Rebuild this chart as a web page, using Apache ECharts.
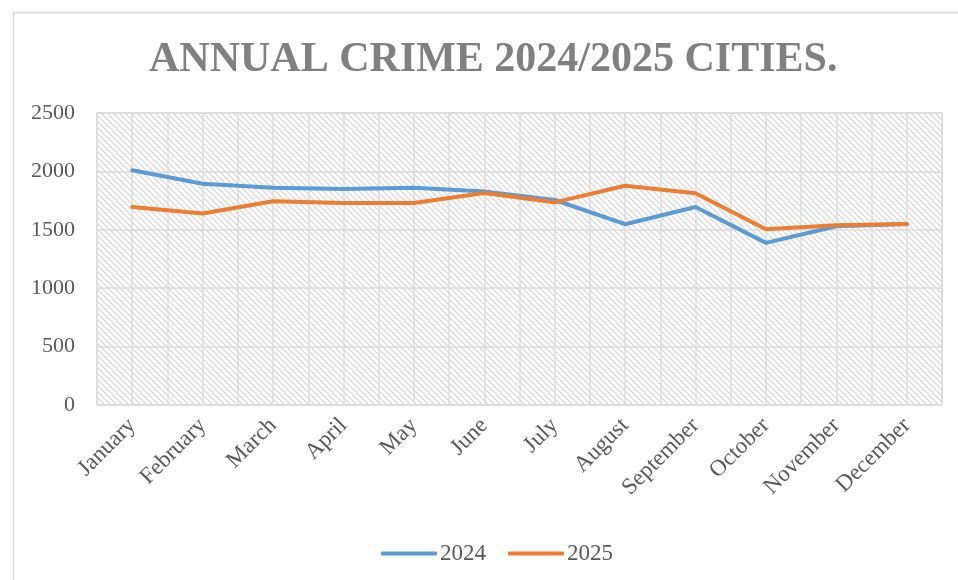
<!DOCTYPE html>
<html>
<head>
<meta charset="utf-8">
<script src="https://cdn.jsdelivr.net/npm/echarts@6/dist/echarts.min.js"></script>
<style>
html,body{margin:0;padding:0;background:#fff;}
#chart{width:958px;height:580px;}
</style>
</head>
<body>
<div id="chart"></div>
<script>
const months = ['January','February','March','April','May','June','July','August','September','October','November','December'];
const crime2024 = [2010, 1895, 1860, 1850, 1860, 1828, 1755, 1548, 1695, 1388, 1530, 1550];
const crime2025 = [1695, 1640, 1745, 1730, 1730, 1815, 1735, 1877, 1813, 1505, 1538, 1550];
const yTicks = [0, 500, 1000, 1500, 2000, 2500];

// hatch pattern tile
const tile = document.createElement('canvas');
tile.width = 6; tile.height = 6;
const tc = tile.getContext('2d');
tc.fillStyle = '#ffffff';
tc.fillRect(0,0,6,6);
tc.strokeStyle = '#d4d4d4';
tc.lineWidth = 1.2;
tc.beginPath();
tc.moveTo(-1,-1); tc.lineTo(7,7);
tc.moveTo(-7,-1); tc.lineTo(1,7);
tc.moveTo(5,-1); tc.lineTo(13,7);
tc.stroke();

const halfCats = [];
months.forEach(m => { halfCats.push(m + ' a'); halfCats.push(m + ' b'); });

const chart = echarts.init(document.getElementById('chart'));
chart.setOption({
  backgroundColor: '#ffffff',
  animation: false,
  title: {
    text: 'ANNUAL CRIME 2024/2025 CITIES.',
    left: 144,
    top: 34,
    textStyle: { fontFamily: 'Liberation Serif', fontWeight: 'bold', fontSize: 42, color: '#808080' }
  },
  graphic: [{
    type: 'rect', left: 11, top: 10,
    shape: { width: 960, height: 580 },
    style: { fill: 'none', stroke: '#d9d9d9', lineWidth: 1.5 },
    silent: true, z: -1
  }],
  legend: {
    top: 537,
    left: 376,
    itemWidth: 56,
    itemHeight: 4,
    itemGap: 22,
    icon: 'roundRect',
    textStyle: { fontFamily: 'Liberation Serif', fontSize: 23, color: '#595959', padding: [0,0,0,-2] },
    data: ['2024', '2025']
  },
  grid: {
    left: 97, right: 16, top: 113, height: 292,
    show: true,
    borderColor: '#d9d9d9', borderWidth: 1.5,
    backgroundColor: { image: tile, repeat: 'repeat' }
  },
  xAxis: [{
    type: 'category',
    data: months,
    boundaryGap: true,
    axisLine: { show: false },
    axisTick: { show: false },
    splitLine: { show: false },
    axisLabel: { rotate: 45, margin: 17, fontFamily: 'Liberation Serif', fontSize: 23, color: '#595959', interval: 0 }
  }, {
    type: 'category',
    data: halfCats,
    boundaryGap: true,
    position: 'bottom',
    axisLine: { show: false },
    axisTick: { show: false },
    axisLabel: { show: false },
    splitLine: { show: true, interval: 0, lineStyle: { color: '#dcdcdc', width: 1.5 } }
  }],
  yAxis: {
    type: 'value',
    min: yTicks[0], max: yTicks[yTicks.length - 1], interval: 500,
    axisLine: { show: false },
    axisTick: { show: false },
    axisLabel: { margin: 22, fontFamily: 'Liberation Serif', fontSize: 22, color: '#595959', formatter: v => String(v) },
    splitLine: { show: true, lineStyle: { color: '#dcdcdc', width: 1.5 } }
  },
  series: [{
    name: '2024', type: 'line', data: crime2024,
    symbol: 'none', smooth: false,
    lineStyle: { color: '#5B9BD5', width: 4, cap: 'round', join: 'round' },
    itemStyle: { color: '#5B9BD5' }
  }, {
    name: '2025', type: 'line', data: crime2025,
    symbol: 'none', smooth: false,
    lineStyle: { color: '#ED7D31', width: 4, cap: 'round', join: 'round' },
    itemStyle: { color: '#ED7D31' }
  }]
});
</script>
</body>
</html>
